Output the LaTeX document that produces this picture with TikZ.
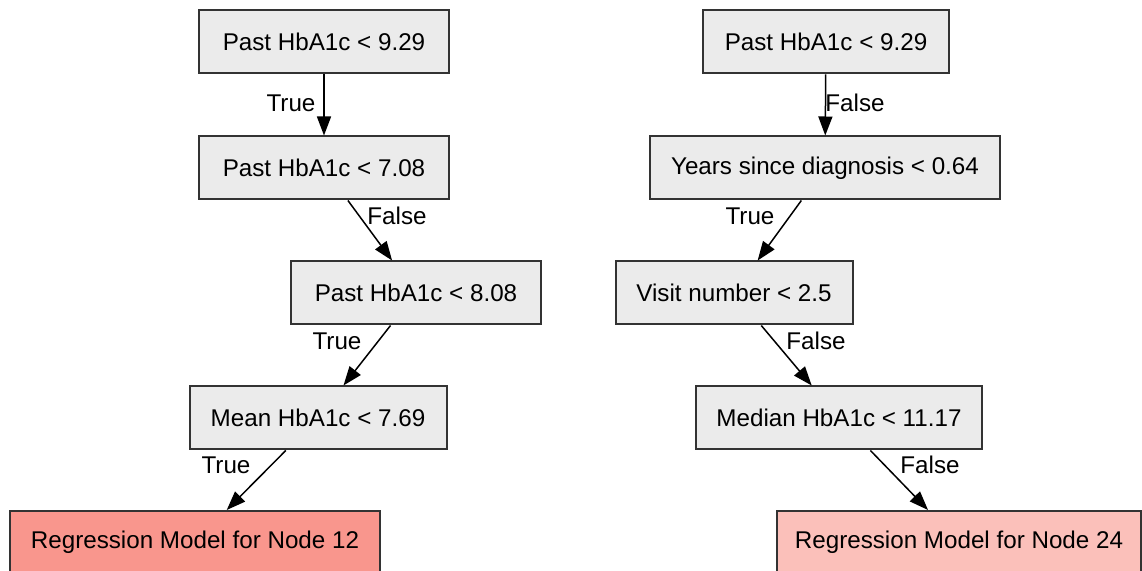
\documentclass[tikz,border=0pt]{standalone}
\usepackage{fontspec}
\setmainfont{Liberation Sans}
\usetikzlibrary{arrows.meta}
\definecolor{boxgray}{HTML}{EBEBEB}
\definecolor{edgegray}{HTML}{333333}
\definecolor{leafdark}{HTML}{F9968D}
\definecolor{leaflight}{HTML}{FBC0BA}
\tikzset{
  split/.style={draw=edgegray, line width=1pt, fill=boxgray, minimum height=31.5pt,
    inner sep=0pt, font=\fontsize{12.1}{14}\selectfont},
  leaf/.style={split, minimum height=31pt},
  branch/.style={line width=0.75pt, -{Triangle[length=9.5pt,width=7pt]}},
  tag/.style={inner sep=0pt, font=\fontsize{12.1}{14}\selectfont}
}
\begin{document}
\begin{tikzpicture}[x=0.5pt, y=-0.5pt]
\useasboundingbox (0,0) rectangle (1142,571);
\clip (0,0) rectangle (1142,571);

% left tree
\node[split, minimum width=125pt]   (a1) at (324,42)  {Past HbA1c < 9.29};
\node[split, minimum width=125pt]   (a2) at (324,168) {Past HbA1c < 7.08};
\node[split, minimum width=125pt]   (a3) at (416,293) {Past HbA1c < 8.08};
\node[split, minimum width=128.5pt] (a4) at (318,418) {Mean HbA1c < 7.69};
\node[leaf, fill=leafdark, minimum width=185pt] (a5) at (195,542) {Regression Model for Node 12};

% right tree
\node[split, minimum width=123pt]   (b1) at (826,42)  {Past HbA1c < 9.29};
\node[split, minimum width=175pt]   (b2) at (825,168) {Years since diagnosis < 0.64};
\node[split, minimum width=118.5pt] (b3) at (734,293) {Visit number < 2.5};
\node[split, minimum width=143pt]   (b4) at (839,418) {Median HbA1c < 11.17};
\node[leaf, fill=leaflight, minimum width=182pt] (b5) at (959,542) {Regression Model for Node 24};

% branches
\draw[branch] (a1) -- (a2);
\draw[branch] (a2) -- (a3);
\draw[branch] (a3) -- (a4);
\draw[branch] (a4) -- (a5);
\draw[branch] (b1) -- (b2);
\draw[branch] (b2) -- (b3);
\draw[branch] (b3) -- (b4);
\draw[branch] (b4) -- (b5);

% branch labels
\node[tag] (la1) at (291,103) {True};
\node[tag] (la2) at (397,216) {False};
\node[tag] (la3) at (337,341) {True};
\node[tag] (la4) at (226,465) {True};
\node[tag] (lb1) at (855,103) {False};
\node[tag] (lb2) at (750,216) {True};
\node[tag] (lb3) at (816,341) {False};
\node[tag] (lb4) at (930,465) {False};
\end{tikzpicture}
\end{document}
